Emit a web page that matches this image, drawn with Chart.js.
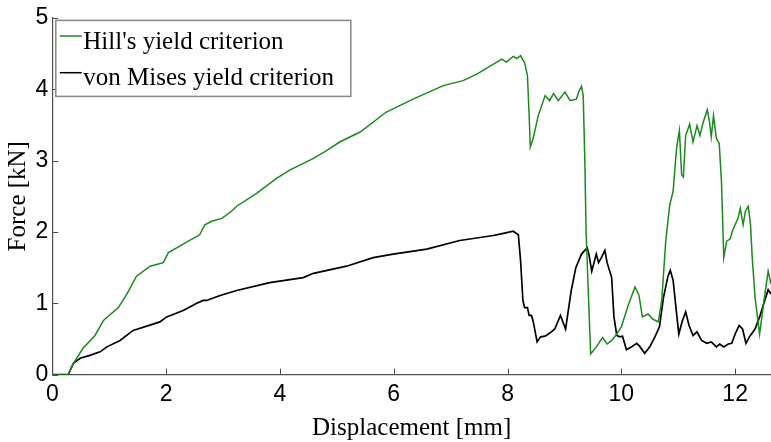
<!DOCTYPE html>
<html>
<head>
<meta charset="utf-8">
<script src="https://cdn.jsdelivr.net/npm/chart.js@4/dist/chart.umd.min.js"></script>
<style>
  html, body { margin: 0; padding: 0; background: #fff; }
  #wrap { width: 771px; height: 442px; }
</style>
</head>
<body>
<div id="wrap"><canvas id="c" width="771" height="442"></canvas></div>
<script>
// Force–displacement response for two yield criteria
const hillDisp = [0, 0.28, 0.37, 0.54, 0.75, 0.9, 1.16, 1.31, 1.48, 1.72, 1.95, 2.04, 2.30, 2.39, 2.59, 2.68, 2.80, 2.98, 3.15, 3.24, 3.59, 3.94, 4.18, 4.59, 4.82, 5.05, 5.41, 5.87, 6.34, 6.87, 7.22, 7.46, 7.90, 7.98, 8.10, 8.16, 8.23, 8.30, 8.35, 8.38, 8.40, 8.45, 8.54, 8.66, 8.74, 8.81, 8.89, 9.01, 9.10, 9.21, 9.25, 9.30, 9.33, 9.36, 9.38, 9.46, 9.56, 9.67, 9.75, 9.83, 9.90, 10.0, 10.12, 10.24, 10.31, 10.37, 10.47, 10.55, 10.65, 10.71, 10.78, 10.85, 10.91, 10.97, 11.02, 11.06, 11.09, 11.13, 11.20, 11.26, 11.33, 11.38, 11.44, 11.51, 11.55, 11.58, 11.62, 11.67, 11.72, 11.76, 11.80, 11.85, 11.91, 11.96, 12.05, 12.09, 12.14, 12.18, 12.23, 12.27, 12.30, 12.35, 12.43, 12.50, 12.58, 12.63];
const hillForce = [0, 0, 0.16, 0.37, 0.55, 0.76, 0.94, 1.13, 1.38, 1.52, 1.57, 1.71, 1.83, 1.87, 1.96, 2.10, 2.15, 2.19, 2.29, 2.36, 2.54, 2.75, 2.87, 3.03, 3.14, 3.26, 3.40, 3.68, 3.86, 4.05, 4.12, 4.21, 4.42, 4.38, 4.46, 4.43, 4.47, 4.37, 4.19, 3.63, 3.19, 3.31, 3.63, 3.91, 3.84, 3.94, 3.84, 3.96, 3.84, 3.86, 3.96, 4.04, 3.91, 2.94, 2.01, 0.29, 0.39, 0.52, 0.43, 0.48, 0.55, 0.67, 0.97, 1.23, 1.11, 0.81, 0.85, 0.78, 0.74, 1.04, 1.87, 2.38, 2.57, 3.17, 3.42, 2.80, 2.77, 3.35, 3.51, 3.26, 3.49, 3.35, 3.54, 3.71, 3.54, 3.33, 3.63, 3.31, 3.24, 2.70, 1.64, 1.87, 1.90, 2.03, 2.19, 2.33, 2.10, 2.29, 2.36, 2.10, 1.64, 1.08, 0.57, 1.00, 1.45, 1.27];

const misesDisp = [0, 0.28, 0.37, 0.49, 0.66, 0.84, 0.96, 1.19, 1.42, 1.66, 1.89, 2.01, 2.30, 2.54, 2.65, 2.71, 2.95, 3.24, 3.82, 4.41, 4.59, 5.17, 5.64, 5.99, 6.58, 7.16, 7.75, 7.87, 8.10, 8.19, 8.23, 8.27, 8.30, 8.35, 8.38, 8.42, 8.45, 8.52, 8.58, 8.66, 8.72, 8.77, 8.83, 8.93, 9.02, 9.12, 9.20, 9.30, 9.40, 9.43, 9.48, 9.52, 9.56, 9.60, 9.65, 9.71, 9.75, 9.83, 9.87, 9.92, 9.97, 10.02, 10.09, 10.18, 10.27, 10.32, 10.41, 10.50, 10.59, 10.67, 10.74, 10.82, 10.86, 10.91, 10.96, 11.01, 11.07, 11.13, 11.19, 11.26, 11.33, 11.41, 11.50, 11.58, 11.67, 11.73, 11.80, 11.88, 11.94, 12.00, 12.07, 12.13, 12.19, 12.25, 12.35, 12.43, 12.52, 12.58, 12.63];
const misesForce = [0, 0, 0.16, 0.23, 0.27, 0.32, 0.39, 0.48, 0.62, 0.68, 0.74, 0.81, 0.90, 1.00, 1.04, 1.04, 1.11, 1.18, 1.29, 1.36, 1.42, 1.52, 1.64, 1.69, 1.76, 1.88, 1.95, 1.97, 2.01, 1.96, 1.59, 1.04, 0.94, 0.94, 0.83, 0.83, 0.75, 0.46, 0.53, 0.54, 0.57, 0.60, 0.64, 0.83, 0.64, 1.18, 1.50, 1.69, 1.78, 1.69, 1.45, 1.57, 1.69, 1.57, 1.64, 1.74, 1.57, 1.36, 0.81, 0.55, 0.53, 0.54, 0.35, 0.39, 0.44, 0.40, 0.30, 0.39, 0.53, 0.67, 1.08, 1.38, 1.46, 1.32, 0.94, 0.57, 0.75, 0.88, 0.69, 0.55, 0.60, 0.48, 0.44, 0.46, 0.39, 0.43, 0.39, 0.43, 0.44, 0.57, 0.69, 0.64, 0.44, 0.53, 0.64, 0.81, 1.04, 1.19, 1.13];

const xTicks = [0, 2, 4, 6, 8, 10, 12];
const yTicks = [0, 1, 2, 3, 4, 5];
const seriesNames = ["Hill's yield criterion", "von Mises yield criterion"];

const axisColor = '#505050';
const serif = "'Liberation Serif', 'Times New Roman', serif";
const sans = "'Liberation Sans', Arial, sans-serif";

const toPoints = (xs, ys) => xs.map((v, i) => ({ x: v, y: ys[i] }));

// MATLAB-style tick marks pointing into the plot area
const inwardTicks = {
  id: 'inwardTicks',
  afterDatasetsDraw(chart) {
    const { ctx, chartArea: a, scales: { x, y } } = chart;
    ctx.save();
    ctx.strokeStyle = axisColor;
    ctx.lineWidth = 1;
    ctx.beginPath();
    x.ticks.forEach(t => {
      const px = Math.round(x.getPixelForValue(t.value)) + 0.5;
      ctx.moveTo(px, a.bottom);
      ctx.lineTo(px, a.bottom - 6);
    });
    y.ticks.forEach(t => {
      const py = Math.round(y.getPixelForValue(t.value)) + 0.5;
      ctx.moveTo(a.left, py);
      ctx.lineTo(a.left + 6, py);
    });
    ctx.stroke();
    ctx.restore();
  }
};

// Boxed legend in the upper-left corner of the plot
const boxedLegend = {
  id: 'boxedLegend',
  afterDraw(chart) {
    const { ctx, chartArea: a } = chart;
    const left = a.left + 3.5, top = a.top + 2.6, w = 295, h = 76;
    ctx.save();
    ctx.fillStyle = '#fff';
    ctx.fillRect(left, top, w, h);
    ctx.strokeStyle = '#888';
    ctx.lineWidth = 1.5;
    ctx.strokeRect(left, top, w, h);
    const rows = [{ line: 36, base: 48.5 }, { line: 72.7, base: 85 }];
    chart.data.datasets.forEach((ds, i) => {
      const r = rows[i];
      ctx.strokeStyle = ds.borderColor;
      ctx.lineWidth = 1.5;
      ctx.beginPath();
      ctx.moveTo(left + 4, r.line);
      ctx.lineTo(left + 26, r.line);
      ctx.stroke();
      ctx.fillStyle = '#000';
      ctx.font = '25px ' + serif;
      ctx.textBaseline = 'alphabetic';
      ctx.textAlign = 'left';
      ctx.fillText(ds.label, left + 27.5, r.base);
    });
    ctx.restore();
  }
};

new Chart(document.getElementById('c'), {
  type: 'line',
  data: {
    datasets: [
      {
        label: seriesNames[0],
        data: toPoints(hillDisp, hillForce),
        borderColor: '#1a8a1a',
        borderWidth: 1.5,
        pointRadius: 0,
        tension: 0,
        fill: false
      },
      {
        label: seriesNames[1],
        data: toPoints(misesDisp, misesForce),
        borderColor: '#000000',
        borderWidth: 1.7,
        pointRadius: 0,
        tension: 0,
        fill: false
      }
    ]
  },
  options: {
    responsive: false,
    animation: false,
    layout: { padding: { top: 14.7, right: 0, bottom: 0, left: 0 } },
    plugins: {
      legend: { display: false },
      tooltip: { enabled: false }
    },
    scales: {
      x: {
        type: 'linear',
        min: 0,
        max: 12.63,
        grid: { display: false, drawTicks: false },
        border: { display: true, color: axisColor, width: 1.2 },
        ticks: { color: '#000', font: { family: sans, size: 23 }, padding: 6, maxRotation: 0 },
        afterBuildTicks: s => { s.ticks = xTicks.map(v => ({ value: v })); },
        afterFit: s => { s.height = 67.3; },
        title: {
          display: true,
          text: 'Displacement [mm]',
          color: '#000',
          font: { family: serif, size: 25, lineHeight: 1 },
          padding: { top: 0, bottom: 1.5 }
        }
      },
      y: {
        type: 'linear',
        min: 0,
        max: 5,
        grid: { display: false, drawTicks: false },
        border: { display: true, color: axisColor, width: 1.2 },
        ticks: { color: '#000', font: { family: sans, size: 23 }, padding: 4 },
        afterBuildTicks: s => { s.ticks = yTicks.map(v => ({ value: v })); },
        afterFit: s => { s.width = 52.3; },
        title: {
          display: true,
          text: 'Force [kN]',
          color: '#000',
          font: { family: serif, size: 25, lineHeight: 1 },
          padding: { top: 5.5, bottom: 0 }
        }
      }
    }
  },
  plugins: [inwardTicks, boxedLegend]
});
</script>
</body>
</html>
